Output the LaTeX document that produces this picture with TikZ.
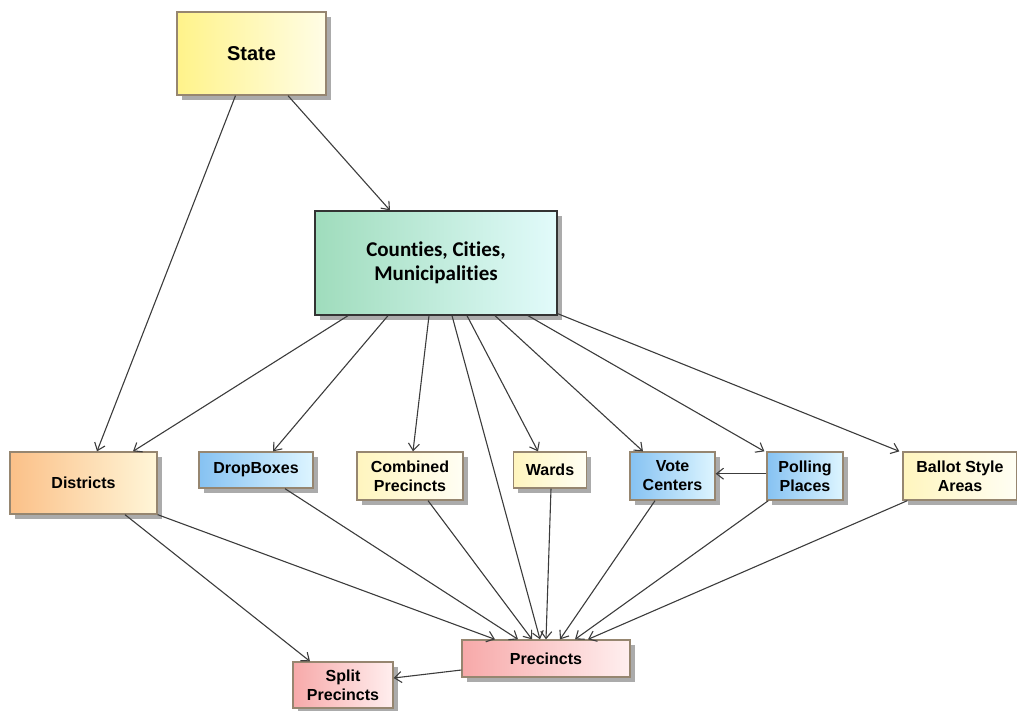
\documentclass[tikz,border=0pt]{standalone}
\usepackage{fontspec}
\setmainfont{Liberation Sans}
\newfontfamily\calibri[Ligatures=NoCommon]{Carlito}
\usetikzlibrary{arrows.meta,shadows}

\definecolor{boxline}{HTML}{968670}
\definecolor{linkgray}{HTML}{3C3C3C}
\definecolor{stateA}{HTML}{FFF38A}
\definecolor{stateB}{HTML}{FFFDE6}
\definecolor{cntA}{HTML}{9FDCBC}
\definecolor{cntB}{HTML}{E2FBFB}
\definecolor{dstA}{HTML}{FBC088}
\definecolor{dstB}{HTML}{FFF6D8}
\definecolor{blueA}{HTML}{86C2F2}
\definecolor{blueB}{HTML}{DDF5FF}
\definecolor{paleA}{HTML}{FFF5BE}
\definecolor{paleB}{HTML}{FFFEF4}
\definecolor{pinkA}{HTML}{F7A9A9}
\definecolor{pinkB}{HTML}{FFEFEF}

\begin{document}
\begin{tikzpicture}[x=1pt,y=-1pt,
    box/.style={draw=boxline, line width=1.3pt, align=center, inner sep=0pt,
        font=\bfseries\fontsize{16}{19}\selectfont,
        drop shadow={shadow xshift=4.5pt, shadow yshift=-4.5pt, fill=black!60, opacity=0.55}},
    stbox/.style={box, left color=stateA, right color=stateB},
    dsbox/.style={box, left color=dstA, right color=dstB},
    bluebox/.style={box, left color=blueA, right color=blueB},
    palebox/.style={box, left color=paleA, right color=paleB},
    pinkbox/.style={box, left color=pinkA, right color=pinkB},
    link/.style={draw=linkgray, line width=1.1pt, -{Straight Barb[length=7pt,width=11pt]}}]

    \useasboundingbox (0,0) rectangle (1017,710);

    % boxes
    \node[stbox, minimum width=149pt, minimum height=83pt, font=\bfseries\fontsize{20}{24}\selectfont] (st) at (251.5,53.5) {State};
    \node[box, draw=black!80, left color=cntA, right color=cntB, minimum width=242pt, minimum height=104pt,
        font=\calibri\bfseries\fontsize{21}{24}\selectfont] (cnt) at (436,263) {Counties, Cities,\\Municipalities};
    \node[dsbox, minimum width=147pt, minimum height=62pt] (dst) at (83.5,483) {Districts};
    \node[bluebox, minimum width=114pt, minimum height=36pt] (drp) at (256,470) {DropBoxes};
    \node[palebox, minimum width=106pt, minimum height=48pt] (cmb) at (410,476) {Combined\\Precincts};
    \node[palebox, minimum width=73pt, minimum height=36pt] (wrd) at (550,470) {Wards};
    \node[bluebox, minimum width=85pt, minimum height=48pt] (vot) at (672.5,476) {Vote\\Centers};
    \node[bluebox, minimum width=76pt, minimum height=48pt] (pol) at (805,476) {Polling\\Places};
    \node[palebox, minimum width=114pt, minimum height=48pt] (bal) at (960,476) {Ballot Style\\Areas};
    \node[pinkbox, minimum width=168pt, minimum height=37pt] (pre) at (546,658.5) {Precincts};
    \node[pinkbox, minimum width=100pt, minimum height=46pt] (spl) at (343,685) {Split\\Precincts};

    % links from the top
    \draw[link] ([xshift=36.5pt]st.south) -- ([xshift=-46pt]cnt.north);
    \draw[link] ([xshift=-16pt]st.south) -- ([xshift=13.5pt]dst.north);
    \draw[link] ([xshift=-88pt]cnt.south) -- ([xshift=49.5pt]dst.north);
    \draw[link] ([xshift=-48pt]cnt.south) -- ([xshift=17pt]drp.north);
    \draw[link] ([xshift=-7pt]cnt.south) -- ([xshift=3pt]cmb.north);
    \draw[link] ([xshift=16pt]cnt.south) -- ([xshift=-6pt]pre.north);
    \draw[link] ([xshift=31pt]cnt.south) -- ([xshift=-12pt]wrd.north);
    \draw[link] ([xshift=59pt]cnt.south) -- ([xshift=-29.5pt]vot.north);
    \draw[link] ([xshift=92pt]cnt.south) -- ([xshift=-2pt]pol.north west);
    \draw[link] ([yshift=2pt]cnt.south east) -- ([xshift=-3pt]bal.north west);
    \draw[link] ([yshift=2.3pt]pol.west) -- ([yshift=2.3pt]vot.east);

    % links to the precincts
    \draw[link] ([xshift=41.5pt]dst.south) -- ([xshift=-33pt]spl.north);
    \draw[link] (dst.south east) -- ([xshift=-51pt]pre.north);
    \draw[link] ([xshift=29pt]drp.south) -- ([xshift=-28pt]pre.north);
    \draw[link] ([xshift=18pt]cmb.south) -- ([xshift=-14pt]pre.north);
    \draw[link] ([xshift=1pt]wrd.south) -- (pre.north);
    \draw[link] ([xshift=-17.5pt]vot.south) -- ([xshift=14pt]pre.north);
    \draw[link] ([xshift=2pt]pol.south west) -- ([xshift=29pt]pre.north);
    \draw[link] ([xshift=5pt]bal.south west) -- ([xshift=42pt]pre.north);
    \draw[link] ([yshift=-11.5pt]pre.west) -- ([yshift=7pt]spl.east);
\end{tikzpicture}
\end{document}
